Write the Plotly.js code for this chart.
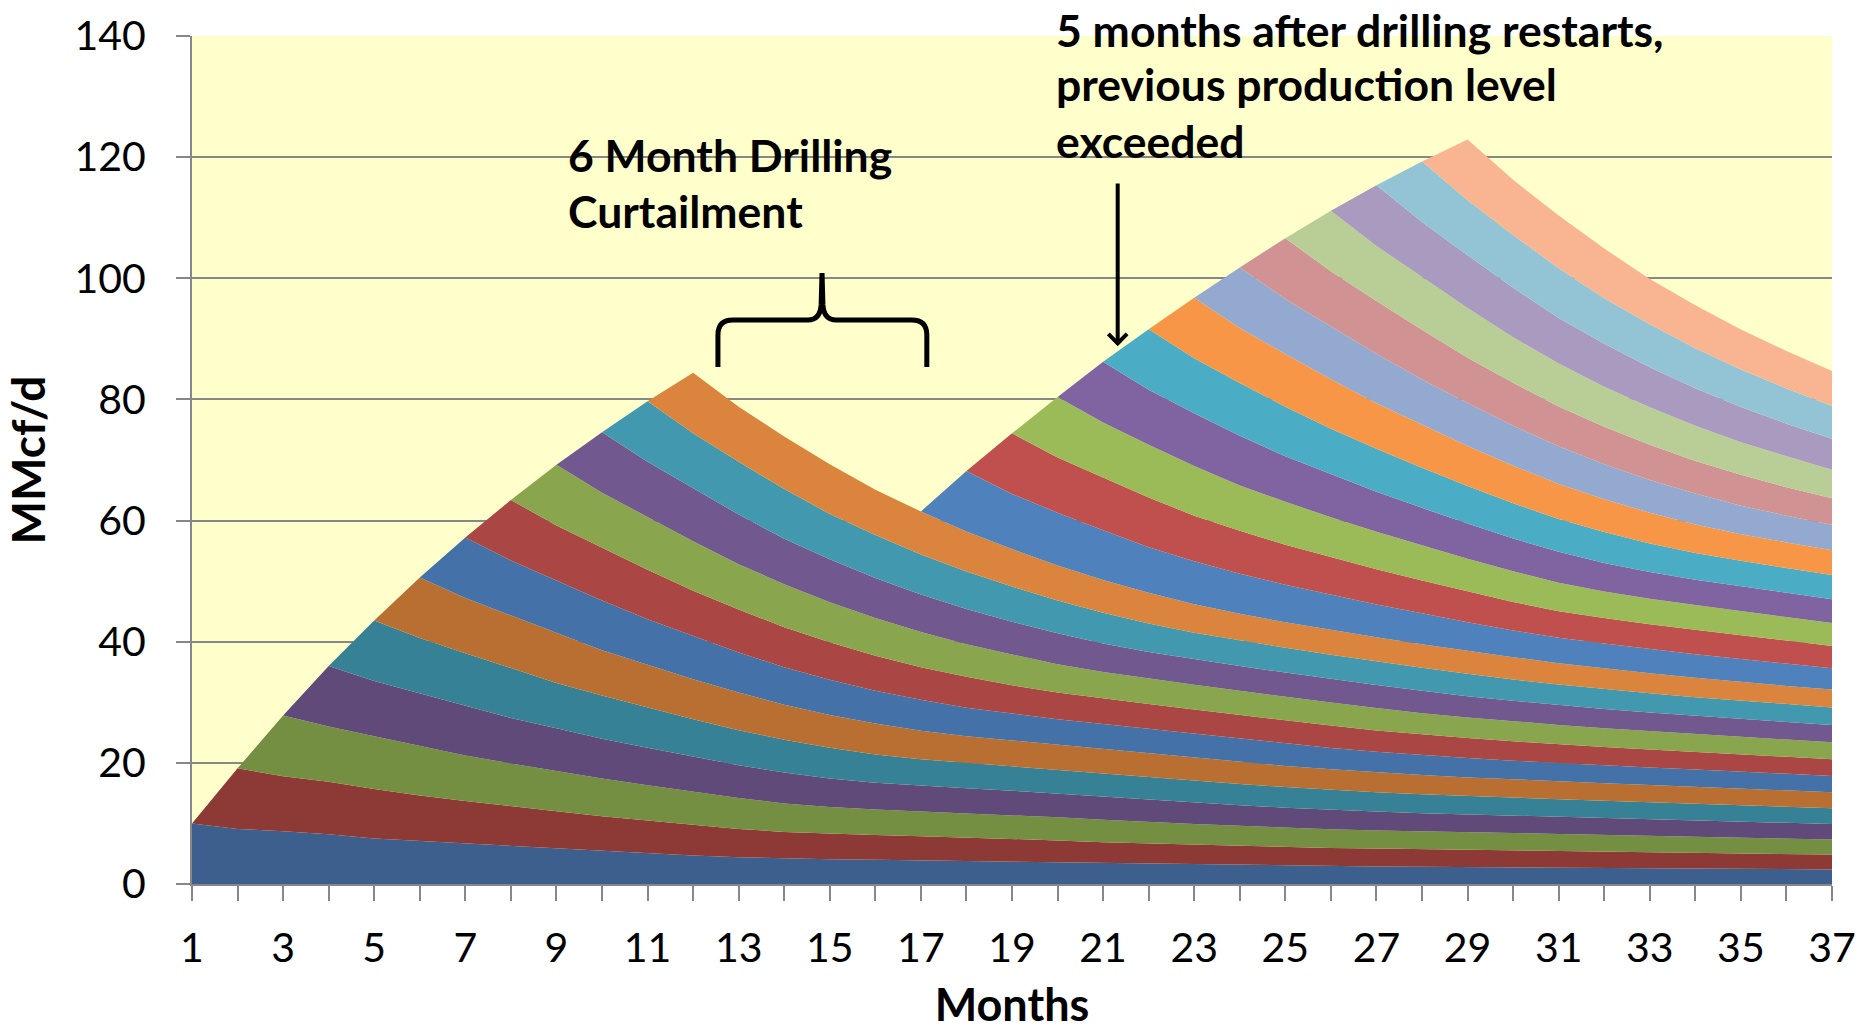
<!DOCTYPE html>
<html>
<head>
<meta charset="utf-8">
<script src="https://cdn.plot.ly/plotly-3.0.1.min.js"></script>
<style>
  html, body { margin: 0; padding: 0; background: #ffffff; }
  #chart { width: 1869px; height: 1031px; }
</style>
</head>
<body>
<div id="chart"></div>
<script>
// Months on the x axis
const months = [1,2,3,4,5,6,7,8,9,10,11,12,13,14,15,16,17,18,19,20,21,22,23,24,25,26,27,28,29,30,31,32,33,34,35,36,37];

// Production of one well (MMcf/d) by age in months (type curve)
const wellRateByAge = [10.0, 9.1, 8.7, 8.2, 7.5, 7.1, 6.6, 6.2, 5.8, 5.4, 5.1, 4.7,
                       4.4, 4.2, 4.1, 4.0, 3.9, 3.8, 3.7, 3.5, 3.4, 3.3, 3.2, 3.1,
                       3.0, 2.95, 2.9, 2.85, 2.8, 2.75, 2.7, 2.65, 2.6, 2.55, 2.5, 2.45, 2.4];

// Month in which each well comes on line (drilling paused months 13-17)
const wellStartMonth = [1,2,3,4,5,6,7,8,9,10,11,12, 18,19,20,21,22,23,24,25,26,27,28,29];

// Colour of each well's band
const seriesColors = ['#3D5F8E','#8D3A37','#748E42','#5F4A7A','#368195','#B96F31',
                      '#4472A8','#AA4644','#89A54E','#71588F','#4198AF','#DB843D',
                      '#4F81BD','#C0504D','#9BBB59','#8064A2','#4BACC6','#F79646',
                      '#94A9D0','#D09293','#B9CE97','#A99ABF','#93C4D6','#F9B591'];

// Tick labels: odd months labelled
const xTickText = months.map(m => (m % 2 === 1 ? String(m) : ''));

// Annotation texts
const curtailLines = ['<b>6 Month Drilling</b>', '<b>Curtailment</b>'];
const restartLines = ['<b>5 months after drilling restarts,</b>', '<b>previous production level</b>', '<b>exceeded</b>'];

const traces = wellStartMonth.map((start, i) => ({
  type: 'scatter',
  mode: 'lines',
  x: months,
  y: months.map(m => (m < start ? 0 : wellRateByAge[m - start])),
  stackgroup: 'wells',
  fill: 'tonexty',
  fillcolor: seriesColors[i],
  line: { width: 0, color: seriesColors[i] },
  name: 'Well ' + (i + 1),
  hoverinfo: 'skip'
}));

const gridGray = '#878787';

const textAnn = (txt, x, y) => ({
  xref: 'x', yref: 'paper', x: x, y: y,
  xanchor: 'left', yanchor: 'middle', align: 'left',
  text: txt, showarrow: false,
  font: { size: 44.5, color: '#000000' }
});

const annotations = [
  textAnn(curtailLines[0], 9.2, 0.860),
  textAnn(curtailLines[1], 9.2, 0.794),
  textAnn(restartLines[0], 19.93, 1.008),
  textAnn(restartLines[1], 19.93, 0.944),
  textAnn(restartLines[2], 19.93, 0.877),
  {
    xref: 'x', yref: 'y', x: 21.32, y: 88.8,
    axref: 'x', ayref: 'y', ax: 21.32, ay: 115.9,
    text: '',
    showarrow: true,
    arrowhead: 4,
    arrowsize: 0.9,
    arrowwidth: 4,
    arrowcolor: '#000000'
  }
];

const layout = {
  width: 1869,
  height: 1031,
  margin: { l: 192, r: 37, t: 36, b: 147 },
  paper_bgcolor: '#ffffff',
  plot_bgcolor: '#FFFFCC',
  showlegend: false,
  font: { family: 'Lato, "Open Sans", sans-serif', color: '#000000' },
  xaxis: {
    range: [1, 37],
    tickvals: months,
    ticktext: xTickText,
    ticks: 'outside',
    ticklen: 15,
    tickwidth: 2,
    tickcolor: gridGray,
    showline: true,
    linecolor: gridGray,
    linewidth: 2,
    showgrid: false,
    zeroline: false,
    tickfont: { size: 41, color: '#000000' },
    ticklabelstandoff: 12,
    title: { text: '<b>Months</b>', font: { size: 45, color: '#000000' }, standoff: 33 }
  },
  yaxis: {
    range: [0, 140],
    tick0: 0,
    dtick: 20,
    ticks: 'outside',
    ticklen: 14,
    tickwidth: 2,
    tickcolor: gridGray,
    showline: true,
    linecolor: gridGray,
    linewidth: 2,
    showgrid: true,
    gridcolor: gridGray,
    gridwidth: 2,
    zeroline: false,
    tickfont: { size: 41, color: '#000000' },
    ticklabelstandoff: 22,
    title: { text: '<b>MMcf/d</b>', font: { size: 46, color: '#000000' }, standoff: 28 }
  },
  annotations: annotations,
  shapes: [
    {
      type: 'path', xref: 'x', yref: 'y',
      path: 'M 12.545,85.36 L 12.545,90.64 Q 12.545,93.11 12.874,93.11 L 14.52,93.11 Q 14.79,93.11 14.81,95.6 L 14.83,100.88 L 14.85,95.6 Q 14.87,93.11 15.14,93.11 L 16.80,93.11 Q 17.13,93.11 17.13,90.64 L 17.13,85.36',
      line: { color: '#000000', width: 5 },
      fillcolor: 'rgba(0,0,0,0)'
    }
  ]
};

Plotly.newPlot('chart', traces, layout, { staticPlot: true, displayModeBar: false });
</script>
</body>
</html>
